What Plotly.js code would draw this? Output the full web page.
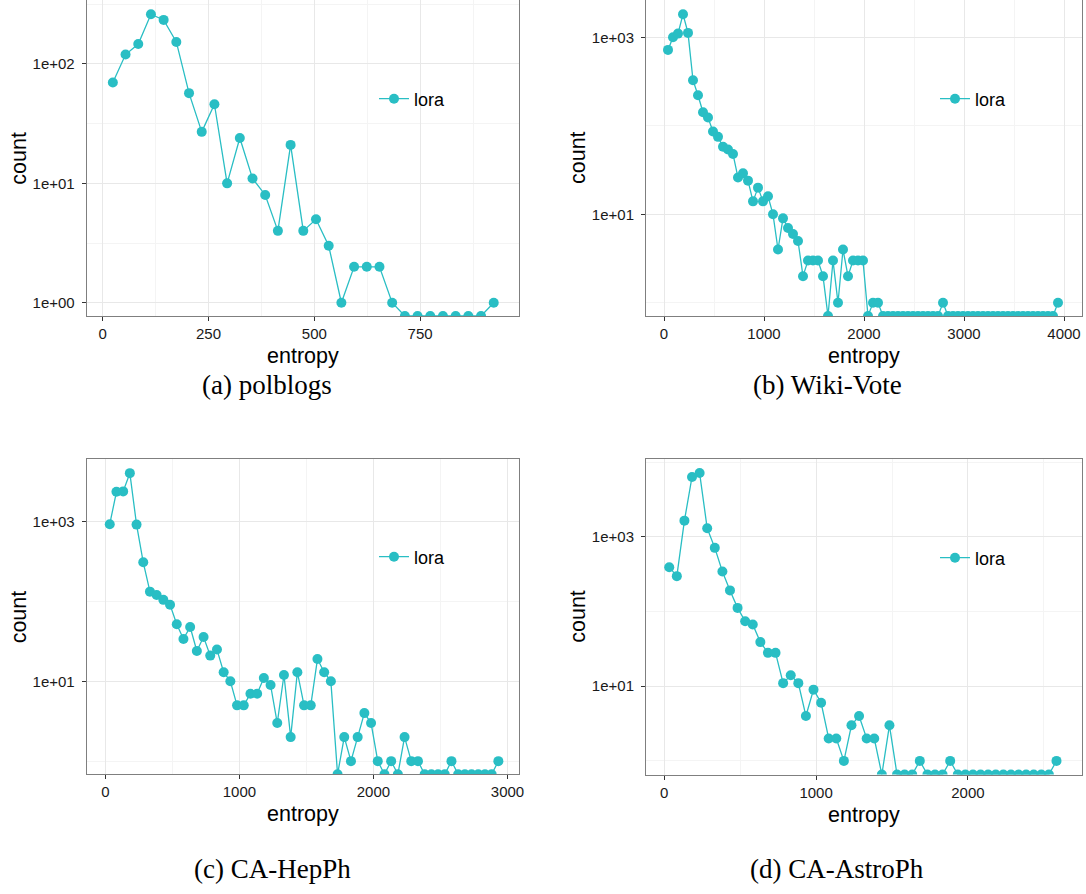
<!DOCTYPE html>
<html>
<head>
<meta charset="utf-8">
<script src="https://cdn.plot.ly/plotly-3.0.1.min.js"></script>
<style>
  html, body { margin: 0; padding: 0; background: #ffffff; }
  #chart { width: 1086px; height: 894px; }
</style>
</head>
<body>
<div id="chart"></div>
<script>
// ---------------- DATA ----------------
const seriesName = 'lora';
const captions = ['(a) polblogs', '(b) Wiki-Vote', '(c) CA-HepPh', '(d) CA-AstroPh'];
const xAxisLabel = 'entropy';
const yAxisLabel = 'count';

// (a) polblogs
const polblogsEntropy = [24, 54, 84, 114, 144, 174, 204, 234, 264, 294, 324, 354, 384, 414, 444, 474,
  504, 534, 564, 594, 624, 654, 684, 714, 744, 774, 804, 834, 864, 894, 924];
const polblogsCount = [70, 120, 147, 261, 234, 153, 57, 27, 46, 10, 24, 11, 8, 4, 21, 4,
  5, 3, 1, 2, 2, 2, 1, 0, 0, 0, 0, 0, 0, 0, 1];

// (b) Wiki-Vote
const wikiVoteEntropy = [40, 90, 140, 190, 240, 290, 340, 390, 440, 490, 540, 590, 640, 690, 740, 790,
  840, 890, 940, 990, 1040, 1090, 1140, 1190, 1240, 1290, 1340, 1390, 1440, 1490, 1540, 1590,
  1640, 1690, 1740, 1790, 1840, 1890, 1940, 1990, 2040, 2090, 2140, 2190, 2240, 2290, 2340, 2390,
  2440, 2490, 2540, 2590, 2640, 2690, 2740, 2790, 2840, 2890, 2940, 2990, 3040, 3090, 3140, 3190,
  3240, 3290, 3340, 3390, 3440, 3490, 3540, 3590, 3640, 3690, 3740, 3790, 3840, 3890, 3940];
const wikiVoteCount = [720, 1000, 1100, 1820, 1120, 327, 221, 142, 124, 86, 75, 58, 54, 48, 26, 29,
  24, 14, 20, 14, 16, 10, 4, 9, 7, 6, 5, 2, 3, 3, 3, 2,
  0, 3, 1, 4, 2, 3, 3, 3, 0, 1, 1, 0, 0, 0, 0, 0,
  0, 0, 0, 0, 0, 0, 0, 1, 0, 0, 0, 0, 0, 0, 0, 0,
  0, 0, 0, 0, 0, 0, 0, 0, 0, 0, 0, 0, 0, 0, 1];

// (c) CA-HepPh
const hepPhEntropy = [32, 82, 132, 182, 232, 282, 332, 382, 432, 482, 532, 582, 632, 682, 732, 782,
  832, 882, 932, 982, 1032, 1082, 1132, 1182, 1232, 1282, 1332, 1382, 1432, 1482, 1532, 1582,
  1632, 1682, 1732, 1782, 1832, 1882, 1932, 1982, 2032, 2082, 2132, 2182, 2232, 2282, 2332, 2382,
  2432, 2482, 2532, 2582, 2632, 2682, 2732, 2782, 2832, 2882, 2932];
const hepPhCount = [930, 2370, 2400, 4060, 920, 310, 133, 121, 105, 91, 52, 34, 48, 24, 36, 21,
  25, 13, 10, 5, 5, 7, 7, 11, 9, 3, 12, 2, 13, 5, 5, 19,
  13, 10, 0, 2, 1, 2, 4, 3, 1, 0, 1, 0, 2, 1, 1, 0,
  0, 0, 0, 1, 0, 0, 0, 0, 0, 0, 1];

// (d) CA-AstroPh
const astroPhEntropy = [33, 83, 133, 183, 233, 283, 333, 383, 433, 483, 533, 583, 633, 683, 733, 783,
  833, 883, 933, 983, 1033, 1083, 1133, 1183, 1233, 1283, 1333, 1383, 1433, 1483, 1533, 1583,
  1633, 1683, 1733, 1783, 1833, 1883, 1933, 1983, 2033, 2083, 2133, 2183, 2233, 2283, 2333, 2383,
  2433, 2483, 2533, 2583];
const astroPhCount = [393, 298, 1650, 6340, 7160, 1306, 713, 344, 192, 112, 74, 67, 39, 28, 28, 11,
  14, 11, 4, 9, 6, 2, 2, 1, 3, 4, 2, 2, 0, 3, 0, 0,
  0, 1, 0, 0, 0, 1, 0, 0, 0, 0, 0, 0, 0, 0, 0, 0,
  0, 0, 0, 1];

// tick values / labels
const xTicksA = [0, 250, 500, 750];
const xMinorA = [125, 375, 625, 875];
const yTicksA = [1, 10, 100];
const yTickTextA = ['1e+00', '1e+01', '1e+02'];
const yMinorA = [3.1623, 31.623, 316.23];

const xTicksB = [0, 1000, 2000, 3000, 4000];
const xMinorB = [500, 1500, 2500, 3500];
const xTicksC = [0, 1000, 2000, 3000];
const xMinorC = [500, 1500, 2500];
const xTicksD = [0, 1000, 2000];
const xMinorD = [500, 1500, 2500];
const yTicksBCD = [10, 1000];
const yTickTextBCD = ['1e+01', '1e+03'];
const yMinorBCD = [1, 100, 10000];

// ---------------- LAYOUT / STYLE ----------------
const W = 1086, H = 894;
const COLOR = '#29bec4';
const SANS = 'Liberation Sans, Arial, Helvetica, sans-serif';
const SERIF = 'Liberation Serif, Times New Roman, serif';

const panels = [
  { x: polblogsEntropy, y: polblogsCount, box: [86.7, 0, 519, 316], xr: [-37.8, 983.7], yr: [-0.111, 2.536],
    xt: xTicksA, xm: xMinorA, yt: yTicksA, ytt: yTickTextA, ym: yMinorA, cap: [267, 385], leg: [394, 99] },
  { x: wikiVoteEntropy, y: wikiVoteCount, box: [646, 0, 1082, 316], xr: [-180, 4180], yr: [-0.149, 3.421],
    xt: xTicksB, xm: xMinorB, yt: yTicksBCD, ytt: yTickTextBCD, ym: yMinorBCD, cap: [827, 385], leg: [955, 99] },
  { x: hepPhEntropy, y: hepPhCount, box: [86.7, 459, 519, 774.3], xr: [-140, 3086], yr: [-0.165, 3.786],
    xt: xTicksC, xm: xMinorC, yt: yTicksBCD, ytt: yTickTextBCD, ym: yMinorBCD, cap: [272, 869], leg: [394, 557] },
  { x: astroPhEntropy, y: astroPhCount, box: [646, 459, 1082, 774.5], xr: [-120, 2751], yr: [-0.182, 4.043],
    xt: xTicksD, xm: xMinorD, yt: yTicksBCD, ytt: yTickTextBCD, ym: yMinorBCD, cap: [837, 869], leg: [955, 558] }
];

const traces = [];
const layout = {
  width: W, height: H,
  margin: { l: 0, r: 0, t: 0, b: 0 },
  paper_bgcolor: '#ffffff',
  plot_bgcolor: '#ffffff',
  showlegend: true,
  annotations: [],
  font: { family: SANS, color: '#000000' }
};

panels.forEach((p, i) => {
  const n = i + 1;
  const xa = 'xaxis' + (n === 1 ? '' : n);
  const ya = 'yaxis' + (n === 1 ? '' : n);
  const legName = 'legend' + (n === 1 ? '' : n);
  const floorVal = Math.pow(10, p.yr[0]);   // zero counts are drawn on the panel floor (as -Inf in ggplot)
  traces.push({
    type: 'scatter', mode: 'lines+markers', name: seriesName,
    x: p.x, y: p.y.map(v => v > 0 ? v : floorVal),
    xaxis: 'x' + (n === 1 ? '' : n), yaxis: 'y' + (n === 1 ? '' : n),
    line: { color: COLOR, width: 1.3 },
    marker: { color: COLOR, size: 10, line: { width: 0 } },
    cliponaxis: true,
    legend: legName,
    hoverinfo: 'x+y'
  });
  const [x0, y0, x1, y1] = p.box;
  const common = {
    showline: true, mirror: true, linecolor: '#7f7f7f', linewidth: 1,
    ticks: 'outside', ticklen: 4, tickwidth: 1, tickcolor: '#333333',
    showgrid: true, gridcolor: '#e8e8e8', gridwidth: 1,
    zeroline: false,
    tickfont: { family: SANS, size: 15, color: '#1a1a1a' }
  };
  layout[xa] = Object.assign({}, common, {
    domain: [x0 / W, x1 / W],
    anchor: 'y' + (n === 1 ? '' : n),
    ticklabelstandoff: 0,
    range: p.xr, tickmode: 'array', tickvals: p.xt, ticktext: p.xt.map(String),
    minor: { tickmode: 'array', tickvals: p.xm, showgrid: true, gridcolor: '#f4f4f4', gridwidth: 1, ticks: '' }
  });
  layout[ya] = Object.assign({}, common, {
    domain: [1 - y1 / H, 1 - y0 / H],
    anchor: 'x' + (n === 1 ? '' : n),
    ticklabelstandoff: 4,
    type: 'log', range: p.yr, tickmode: 'array', tickvals: p.yt, ticktext: p.ytt,
    minor: { tickmode: 'array', tickvals: p.ym, showgrid: true, gridcolor: '#f4f4f4', gridwidth: 1, ticks: '' }
  });
  layout[legName] = {
    x: (p.leg[0] - 20) / W, y: 1 - p.leg[1] / H,
    xanchor: 'left', yanchor: 'middle',
    bgcolor: 'rgba(0,0,0,0)', borderwidth: 0,
    font: { family: SANS, size: 18, color: '#000000' },
    itemclick: false, itemdoubleclick: false
  };
  // axis titles
  layout.annotations.push({
    xref: 'paper', yref: 'paper', x: (x0 + x1) / 2 / W, y: 1 - (y1 + 40) / H,
    xanchor: 'center', yanchor: 'middle', showarrow: false,
    text: xAxisLabel, font: { family: SANS, size: 21.5, color: '#000000' }
  });
  layout.annotations.push({
    xref: 'paper', yref: 'paper', x: (x0 - 68) / W, y: 1 - (y0 + y1) / 2 / H,
    xanchor: 'center', yanchor: 'middle', showarrow: false, textangle: -90,
    text: yAxisLabel, font: { family: SANS, size: 21.5, color: '#000000' }
  });
  // caption
  layout.annotations.push({
    xref: 'paper', yref: 'paper', x: p.cap[0] / W, y: 1 - p.cap[1] / H,
    xanchor: 'center', yanchor: 'middle', showarrow: false,
    text: captions[i], font: { family: SERIF, size: 27, color: '#000000' }
  });
});

Plotly.newPlot('chart', traces, layout, { displayModeBar: false, staticPlot: true });
</script>
</body>
</html>
